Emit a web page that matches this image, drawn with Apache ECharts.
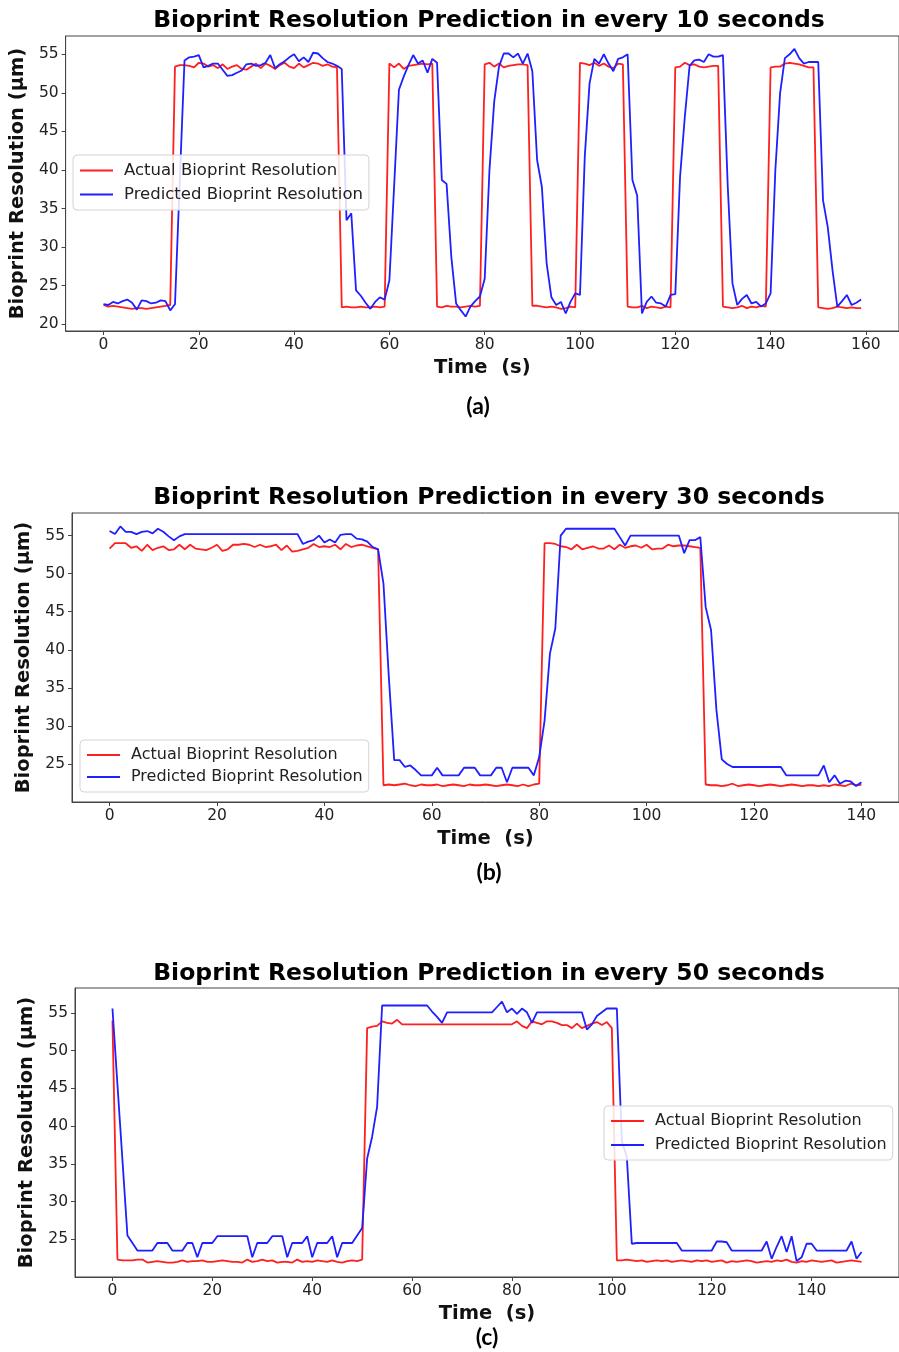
<!DOCTYPE html>
<html><head><meta charset="utf-8">
<script src="https://cdn.jsdelivr.net/npm/echarts@6/dist/echarts.min.js"></script>
<style>html,body{margin:0;padding:0;background:#fff}#c{width:899px;height:1352px}</style>
</head><body><div id="c"></div>
<script>
// ---------- DATA ----------
const seriesNames = ['Actual Bioprint Resolution', 'Predicted Bioprint Resolution'];
const titles = ['Bioprint Resolution Prediction in every 10 seconds',
                'Bioprint Resolution Prediction in every 30 seconds',
                'Bioprint Resolution Prediction in every 50 seconds'];
const captions = ['(a)', '(b)', '(c)'];
const xAxisName = 'Time  (s)';
const yAxisName = 'Bioprint Resolution (\u03bcm)';

// (a) one sample per second, t = 0..159
const actualA = [
 22.5,22.3,22.4,22.3,22.2,22.1,22.0,22.1,22.1,22.0,22.1,22.2,22.3,22.4,22.5,
 53.4,53.6,53.6,53.5,53.3,53.9,53.8,53.4,53.6,53.2,53.7,53.1,53.4,53.6,53.1,53.0,53.4,53.8,53.2,53.8,53.5,53.1,53.6,53.9,53.4,53.2,53.8,53.3,53.6,53.9,53.8,53.5,53.7,53.4,53.3,
 22.2,22.3,22.2,22.2,22.3,22.2,22.2,22.3,22.2,22.3,
 53.8,53.3,53.8,53.1,53.5,53.6,53.7,53.8,53.7,53.8,
 22.3,22.2,22.4,22.3,22.3,22.2,22.3,22.4,22.3,22.4,
 53.7,53.9,53.4,53.8,53.3,53.5,53.6,53.7,53.7,53.6,
 22.4,22.4,22.3,22.2,22.3,22.2,22.0,22.1,22.3,22.2,
 53.9,53.8,53.6,53.9,53.5,53.8,53.4,53.2,53.8,53.7,
 22.3,22.2,22.2,22.4,22.1,22.3,22.2,22.1,22.3,22.2,
 53.3,53.4,53.9,53.6,53.7,53.4,53.3,53.4,53.5,53.5,
 22.3,22.2,22.1,22.2,22.4,22.1,22.3,22.2,22.4,22.3,
 53.3,53.4,53.4,53.8,53.9,53.8,53.7,53.5,53.3,53.3,
 22.2,22.1,22.0,22.1,22.3,22.2,22.1,22.2,22.1,22.1
];
const predictedA = [
 22.6,22.5,22.9,22.7,23.0,23.2,22.8,21.9,23.1,23.0,
 22.7,22.8,23.1,23.0,21.8,22.6,38.5,54.2,54.6,54.7,
 54.9,53.3,53.5,53.8,53.8,53.0,52.2,52.3,52.6,52.9,
 53.7,53.8,53.5,53.6,53.9,54.9,53.2,53.7,54.1,54.6,
 55.0,54.1,54.6,54.0,55.2,55.1,54.5,54.0,53.8,53.5,
 53.1,33.5,34.4,24.4,23.7,22.8,22.0,22.9,23.5,23.2,
 25.7,38.0,50.4,52.1,53.6,54.9,53.8,54.2,52.6,54.4,
 53.9,38.7,38.2,28.7,22.7,21.8,21.0,22.3,23.0,23.6,
 25.9,40.0,48.9,53.4,55.1,55.1,54.6,55.1,53.8,55.1,
 52.8,41.3,37.8,27.9,23.5,22.5,22.9,21.4,22.9,24.0,
 23.8,41.7,51.2,54.4,53.8,55.0,53.8,52.8,54.4,54.6,
 55.0,38.7,36.7,21.4,22.9,23.6,22.8,22.7,22.3,23.8,
 23.9,39.1,46.9,53.5,54.2,54.3,54.0,55.0,54.7,54.7,
 54.9,38.0,25.3,22.5,23.3,23.8,22.7,22.9,22.3,22.7,
 24.0,40.0,50.0,54.5,55.0,55.7,54.5,53.8,54.0,54.0,
 54.0,36.1,32.6,27.0,22.3,23.0,23.8,22.5,22.8,23.2
];

// (b) t = 0..140
const actualB = [
 53.3,54.0,54.0,54.0,53.4,53.6,53.0,53.8,53.1,53.4,
 53.6,53.1,53.2,53.8,53.2,53.8,53.3,53.2,53.1,53.4,
 53.8,53.0,53.2,53.8,53.8,53.9,53.8,53.5,53.8,53.5,
 53.6,53.8,53.1,53.7,52.9,53.0,53.2,53.4,53.9,53.5,
 53.6,53.5,53.8,53.2,53.9,53.5,53.7,53.8,53.6,53.4,
 53.2,
 22.2,22.3,22.2,22.3,22.4,22.2,22.1,22.3,22.2,22.2,
 22.3,22.1,22.2,22.3,22.2,22.1,22.3,22.2,22.2,22.3,
 22.2,22.1,22.2,22.3,22.2,22.1,22.3,22.1,22.3,22.4,
 54.0,54.0,53.9,53.6,53.5,53.2,53.8,53.2,53.4,53.6,
 53.3,53.3,53.7,53.2,53.8,53.4,53.6,53.7,53.4,53.8,
 53.2,53.3,53.3,53.8,53.6,53.7,53.7,53.6,53.5,53.4,
 22.3,22.2,22.2,22.1,22.2,22.4,22.1,22.2,22.3,22.2,
 22.1,22.2,22.3,22.2,22.1,22.2,22.3,22.2,22.1,22.2,
 22.2,22.1,22.2,22.1,22.3,22.2,22.1,22.4,22.2,22.3
];
const predictedB = [
 55.6,55.2,56.2,55.5,55.5,55.2,55.5,55.6,55.3,55.9,
 55.5,54.9,54.4,54.9,55.2,55.2,55.2,55.2,55.2,55.2,
 55.2,55.2,55.2,55.2,55.2,55.2,55.2,55.2,55.2,55.2,
 55.2,55.2,55.2,55.2,55.2,55.2,53.9,54.2,54.4,55.0,
 54.1,54.5,54.1,55.1,55.2,55.2,54.6,54.5,54.2,53.5,
 53.2,48.7,36.4,25.5,25.5,24.6,24.8,24.2,23.5,23.5,
 23.5,24.5,23.5,23.5,23.5,23.5,24.5,24.5,24.5,23.5,
 23.5,23.5,24.5,24.5,22.6,24.5,24.5,24.5,24.5,23.5,
 25.9,30.7,39.5,42.8,55.0,55.9,55.9,55.9,55.9,55.9,
 55.9,55.9,55.9,55.9,55.9,54.8,53.7,55.0,55.0,55.0,
 55.0,55.0,55.0,55.0,55.0,55.0,55.0,52.7,54.4,54.4,
 54.8,45.6,42.6,32.1,25.6,25.0,24.6,24.6,24.6,24.6,
 24.6,24.6,24.6,24.6,24.6,24.6,23.5,23.5,23.5,23.5,
 23.5,23.5,23.5,24.8,22.6,23.5,22.4,22.8,22.7,22.1,
 22.6
];

// (c) t = 0..150
const actualC = [
 54.0,
 22.3,22.2,22.2,22.2,22.3,22.3,21.9,22.0,22.1,22.0,
 21.9,21.9,22.0,22.2,22.0,22.1,22.1,22.2,22.0,22.0,
 22.1,22.2,22.1,22.0,22.0,21.9,22.3,22.0,22.1,22.3,
 22.1,22.2,21.9,22.0,22.0,21.9,22.3,22.0,22.1,22.0,
 22.2,22.1,22.0,22.2,22.0,21.9,22.1,22.2,22.1,22.3,
 53.0,53.2,53.3,53.9,53.7,53.6,54.1,53.5,53.5,53.5,
 53.5,53.5,53.5,53.5,53.5,53.5,53.5,53.5,53.5,53.5,
 53.5,53.5,53.5,53.5,53.5,53.5,53.5,53.5,53.5,53.5,
 53.9,53.3,53.0,53.9,53.7,53.5,53.9,53.9,53.7,53.4,
 53.4,53.0,53.6,53.0,53.3,53.6,53.8,53.4,53.8,53.0,
 22.2,22.2,22.3,22.2,22.1,22.2,22.0,22.1,22.2,22.1,
 22.2,22.0,22.1,22.2,22.1,22.0,22.2,22.1,22.2,22.0,
 22.1,22.2,21.9,22.1,22.0,22.1,22.2,22.1,21.9,22.0,
 22.1,22.0,22.2,22.1,22.3,22.0,21.9,22.1,22.0,22.2,
 22.1,22.0,22.1,22.2,21.9,22.0,22.1,22.2,22.1,22.0
];
const predictedC = [
 55.6,45.5,35.5,25.5,24.5,23.5,23.5,23.5,23.5,24.5,
 24.5,24.5,23.5,23.5,23.5,24.5,24.5,22.6,24.5,24.5,
 24.5,25.4,25.4,25.4,25.4,25.4,25.4,25.4,22.6,24.5,
 24.5,24.5,25.4,25.4,25.4,22.6,24.5,24.5,24.5,25.4,
 22.6,24.5,24.5,24.5,25.4,22.6,24.5,24.5,24.5,25.5,
 26.5,35.7,38.6,42.6,56.0,56.0,56.0,56.0,56.0,56.0,
 56.0,56.0,56.0,56.0,55.2,54.5,53.7,55.1,55.1,55.1,
 55.1,55.1,55.1,55.1,55.1,55.1,55.1,55.8,56.5,55.1,
 55.6,54.9,55.6,55.1,53.7,55.1,55.1,55.1,55.1,55.1,
 55.1,55.1,55.1,55.1,55.1,52.8,53.5,54.6,55.1,55.6,
 55.6,55.6,38.0,35.9,24.4,24.5,24.5,24.5,24.5,24.5,
 24.5,24.5,24.5,24.5,23.5,23.5,23.5,23.5,23.5,23.5,
 23.5,24.7,24.7,24.6,23.5,23.5,23.5,23.5,23.5,23.5,
 23.5,24.7,22.4,24.0,25.4,23.3,25.4,22.1,22.6,24.4,
 24.4,23.5,23.5,23.5,23.5,23.5,23.5,23.5,24.7,22.4,
 23.3
];

const xTicksA = [0,20,40,60,80,100,120,140,160];
const xTicksBC = [0,20,40,60,80,100,120,140];
const yTicksA = [20,25,30,35,40,45,50,55];
const yTicksBC = [25,30,35,40,45,50,55];

// ---------- LAYOUT / STYLE ----------
const F = 'DejaVu Sans';
const RED = '#ff1f1f', BLUE = '#1f1fff', AX = '#444';
const grids = [
  {left:65, top:36, width:848, height:295},
  {left:72, top:513, width:834, height:289},
  {left:75, top:988, width:828, height:289}
];
const xr = [[-7.95,166.95],[-7,147],[-7.5,157.5]];
const yr = [[19.13,57.37],[20.0,57.97],[19.99,58.32]];
const xt = [xTicksA, xTicksBC, xTicksBC];
const yt = [yTicksA, yTicksBC, yTicksBC];

function xAx(i){
  return {type:'value', gridIndex:i, min:xr[i][0], max:xr[i][1],
    name:xAxisName, nameLocation:'middle', nameGap:27,
    nameTextStyle:{fontFamily:F, fontWeight:'bold', fontSize:19.5, color:'#111'},
    axisLine:{show:true, onZero:false, lineStyle:{color:AX, width:1}},
    axisTick:{show:true, inside:false, length:4, customValues:xt[i], lineStyle:{color:AX}},
    axisLabel:{customValues:xt[i], margin:6, fontFamily:F, fontSize:15.5, color:'#222'},
    splitLine:{show:false}};
}
function yAx(i){
  return {type:'value', gridIndex:i, min:yr[i][0], max:yr[i][1],
    name:yAxisName, nameLocation:'middle', nameGap:31, nameRotate:90,
    nameTextStyle:{fontFamily:F, fontWeight:'bold', fontSize:19.5, color:'#111'},
    axisLine:{show:true, onZero:false, lineStyle:{color:AX, width:1}},
    axisTick:{show:true, inside:false, length:4, customValues:yt[i], lineStyle:{color:AX}},
    axisLabel:{customValues:yt[i], margin:7, fontFamily:F, fontSize:15.5, color:'#222'},
    splitLine:{show:false}};
}
function ser(name, vals, i, color){
  return {name, type:'line', xAxisIndex:i, yAxisIndex:i, symbol:'none',
    data: vals.map((v,k)=>[k,v]),
    lineStyle:{color, width:1.8}, itemStyle:{color}, animation:false};
}
const legendPos = [
  {left:73, top:155, itemGap:7, fs:16.5},
  {left:80, top:740, itemGap:6, fs:16},
  {left:604, top:1106, itemGap:8, fs:16}
];
const legends = legendPos.map(p => ({
  left:p.left, top:p.top, orient:'vertical', itemGap:p.itemGap,
  data:seriesNames, icon:'rect', itemWidth:33, itemHeight:2,
  padding:[7,6,7,7], backgroundColor:'rgba(255,255,255,0.85)',
  borderColor:'#d3d3d3', borderWidth:1, borderRadius:4,
  textStyle:{fontFamily:F, fontSize:p.fs, color:'#222', padding:[0,0,0,6]},
  selectedMode:false
}));
const titleCenters = [[489,21],[489,498],[489,974]];
const capCenters = [[478,407],[489,873],[487,1338]];
const graphics = [];
titles.forEach((t,i)=>graphics.push({type:'text', x:titleCenters[i][0], y:titleCenters[i][1],
  style:{text:t, font:'bold 23.5px "DejaVu Sans"', fill:'#000', textAlign:'center', textVerticalAlign:'middle'}}));
captions.forEach((t,i)=>graphics.push({type:'text', x:capCenters[i][0], y:capCenters[i][1],
  style:{text:t, font:'bold 23px Lato', fill:'#000', textAlign:'center', textVerticalAlign:'middle'}}));

const option = {
  animation:false,
  backgroundColor:'#fff',
  grid: grids.map(g => Object.assign({show:true, borderColor:AX, borderWidth:1, containLabel:false}, g)),
  xAxis:[0,1,2].map(xAx),
  yAxis:[0,1,2].map(yAx),
  legend: legends,
  graphic: graphics,
  series:[
    ser(seriesNames[0], actualA, 0, RED), ser(seriesNames[1], predictedA, 0, BLUE),
    ser(seriesNames[0], actualB, 1, RED), ser(seriesNames[1], predictedB, 1, BLUE),
    ser(seriesNames[0], actualC, 2, RED), ser(seriesNames[1], predictedC, 2, BLUE)
  ]
};
const chart = echarts.init(document.getElementById('c'), null, {renderer:'canvas'});
chart.setOption(option);
</script>
</body></html>
